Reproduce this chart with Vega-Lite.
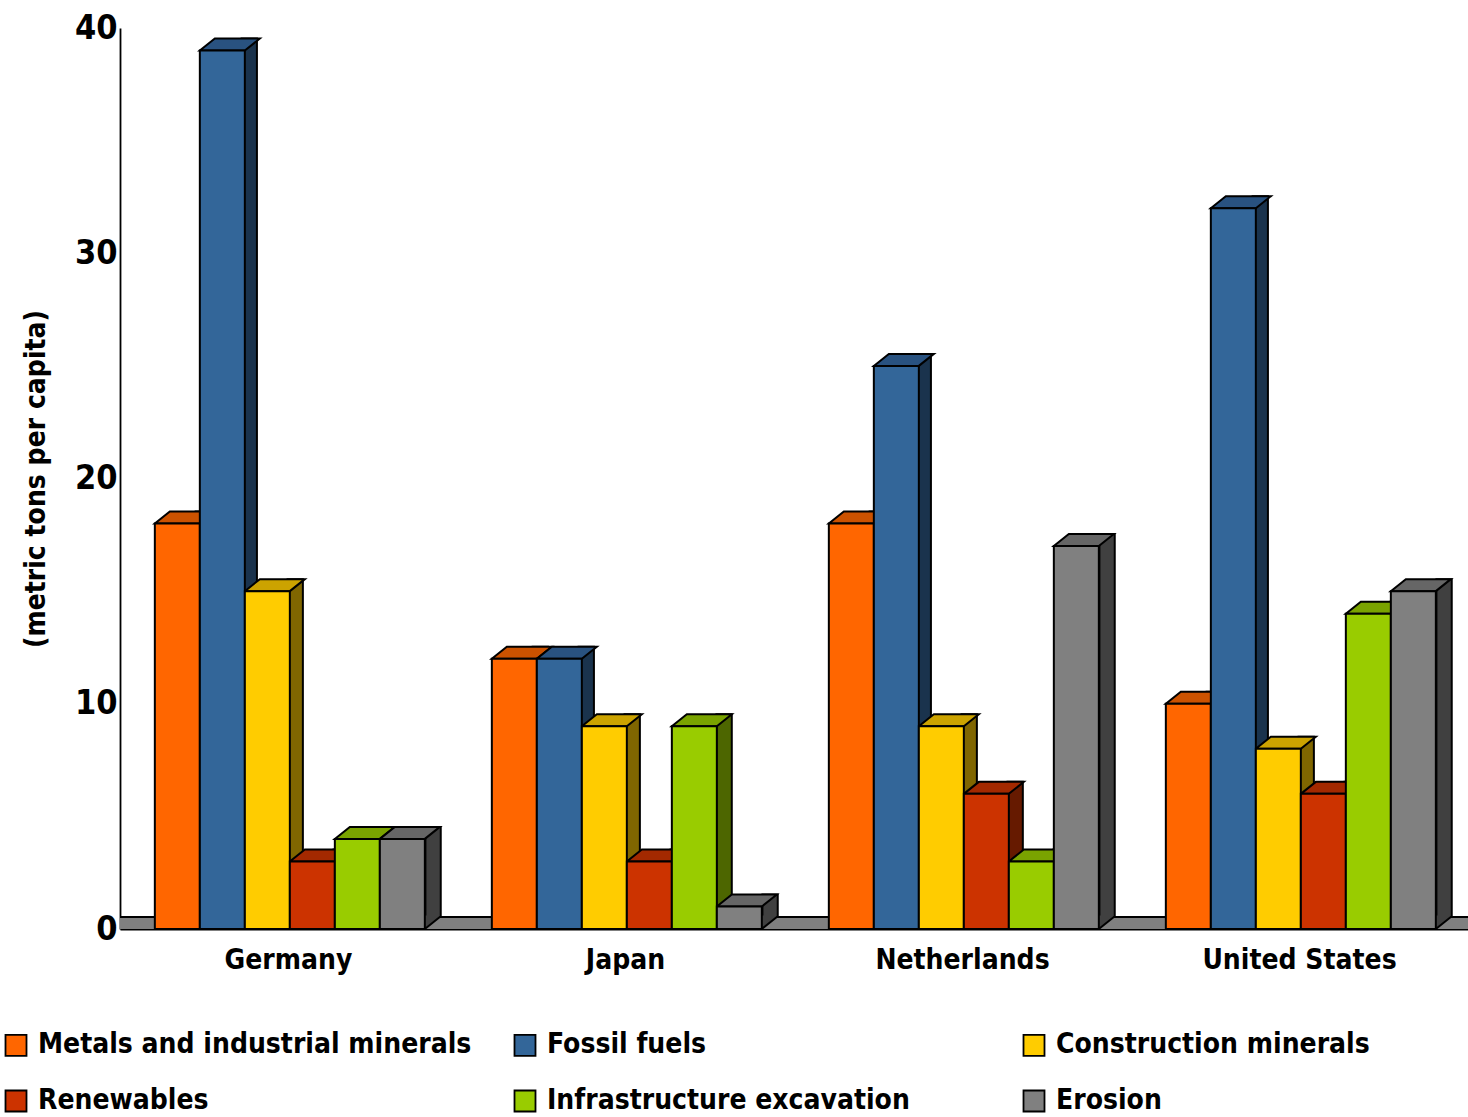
{
  "$schema": "https://vega.github.io/schema/vega-lite/v6.json",
  "autosize": {"type": "none"},
  "padding": {"left": 120, "top": 28, "right": 0, "bottom": 188},
  "width": 1348,
  "height": 901,
  "background": "white",
  "config": {
    "view": {"stroke": null},
    "font": "Liberation Sans Narrow, DejaVu Sans Condensed, sans-serif"
  },
  "data": {
    "values": [
      {"country": "Germany", "category": "Metals and industrial minerals", "value": 18},
      {"country": "Germany", "category": "Fossil fuels", "value": 39},
      {"country": "Germany", "category": "Construction minerals", "value": 15},
      {"country": "Germany", "category": "Renewables", "value": 3},
      {"country": "Germany", "category": "Infrastructure excavation", "value": 4},
      {"country": "Germany", "category": "Erosion", "value": 4},
      {"country": "Japan", "category": "Metals and industrial minerals", "value": 12},
      {"country": "Japan", "category": "Fossil fuels", "value": 12},
      {"country": "Japan", "category": "Construction minerals", "value": 9},
      {"country": "Japan", "category": "Renewables", "value": 3},
      {"country": "Japan", "category": "Infrastructure excavation", "value": 9},
      {"country": "Japan", "category": "Erosion", "value": 1},
      {"country": "Netherlands", "category": "Metals and industrial minerals", "value": 18},
      {"country": "Netherlands", "category": "Fossil fuels", "value": 25},
      {"country": "Netherlands", "category": "Construction minerals", "value": 9},
      {"country": "Netherlands", "category": "Renewables", "value": 6},
      {"country": "Netherlands", "category": "Infrastructure excavation", "value": 3},
      {"country": "Netherlands", "category": "Erosion", "value": 17},
      {"country": "United States", "category": "Metals and industrial minerals", "value": 10},
      {"country": "United States", "category": "Fossil fuels", "value": 32},
      {"country": "United States", "category": "Construction minerals", "value": 8},
      {"country": "United States", "category": "Renewables", "value": 6},
      {"country": "United States", "category": "Infrastructure excavation", "value": 14},
      {"country": "United States", "category": "Erosion", "value": 15}
    ]
  },
  "resolve": {"scale": {"xOffset": "independent", "fill": "independent"}},
  "layer": [
    {
      "mark": {"type": "rect", "fill": "#808080", "yOffset": -12, "opacity": 1},
      "encoding": {
        "x": {"value": 0},
        "x2": {"value": "width"},
        "y": {"datum": 0, "type": "quantitative"},
        "y2": {"datum": 0}
      }
    },
    {
      "mark": {"type": "rule", "color": "black", "strokeWidth": 1.8, "yOffset": -12, "opacity": 1},
      "encoding": {
        "y": {"datum": 0, "type": "quantitative"}
      }
    },
    {
      "mark": {"type": "bar", "stroke": "black", "strokeWidth": 2, "yOffset": -12, "y2Offset": -12, "opacity": 1},
      "encoding": {
        "x": {"field": "country", "type": "nominal"},
        "xOffset": {"field": "category", "type": "nominal", "sort": null,
          "scale": {"type": "band", "paddingInner": 0.66667, "paddingOuter": 1.0778, "align": 0.8231}},
        "y": {"field": "value", "type": "quantitative"},
        "y2": {"datum": 0},
        "fill": {"field": "category", "type": "nominal", "sort": null, "legend": null,
          "scale": {"domain": ["Metals and industrial minerals", "Fossil fuels", "Construction minerals", "Renewables", "Infrastructure excavation", "Erosion"],
            "range": ["#803300", "#1A334D", "#806600", "#661A00", "#4D6600", "#404040"]}}
      }
    },
    {
      "mark": {"type": "point", "filled": true, "opacity": 1, "strokeWidth": 0, "size": 400,
        "shape": "M2.2,0L2.2,-1.36L3.68,-1.36L3.68,-1.144L2.25,0Z"},
      "encoding": {
        "x": {"field": "country", "type": "nominal"},
        "xOffset": {"field": "category", "type": "nominal", "sort": null,
          "scale": {"type": "band", "paddingInner": 0, "paddingOuter": 0.7444, "align": 0.52}},
        "y": {"datum": 0, "type": "quantitative"},
        "fill": {"field": "category", "type": "nominal", "sort": null, "legend": null,
          "scale": {"domain": ["Metals and industrial minerals", "Fossil fuels", "Construction minerals", "Renewables", "Infrastructure excavation", "Erosion"],
            "range": ["#803300", "#1A334D", "#806600", "#661A00", "#4D6600", "#404040"]}}
      }
    },
    {
      "mark": {"type": "point", "filled": false, "opacity": 1, "stroke": "black", "strokeWidth": 2, "size": 400,
        "shape": "M2.25,0L3.75,-1.2"},
      "encoding": {
        "x": {"field": "country", "type": "nominal"},
        "xOffset": {"field": "category", "type": "nominal", "sort": null,
          "scale": {"type": "band", "paddingInner": 0, "paddingOuter": 0.7444, "align": 0.52}},
        "y": {"datum": 0, "type": "quantitative"}
      }
    },
    {
      "mark": {"type": "point", "filled": true, "opacity": 1, "stroke": "black", "strokeWidth": 2, "size": 400,
        "shape": "M-2.25,0L2.25,0L3.75,-1.2L-0.75,-1.2Z"},
      "encoding": {
        "x": {"field": "country", "type": "nominal"},
        "xOffset": {"field": "category", "type": "nominal", "sort": null,
          "scale": {"type": "band", "paddingInner": 0, "paddingOuter": 0.7444, "align": 0.52}},
        "y": {"field": "value", "type": "quantitative"},
        "fill": {"field": "category", "type": "nominal", "sort": null, "legend": null,
          "scale": {"domain": ["Metals and industrial minerals", "Fossil fuels", "Construction minerals", "Renewables", "Infrastructure excavation", "Erosion"],
            "range": ["#CC5200", "#295280", "#CCA300", "#A32900", "#7AA300", "#666666"]}}
      }
    },
    {
      "mark": {"type": "bar", "stroke": "black", "strokeWidth": 2, "opacity": 1},
      "encoding": {
        "x": {"field": "country", "type": "nominal",
          "scale": {"paddingInner": 0, "paddingOuter": 0},
          "axis": {"title": null, "ticks": false, "domain": true, "domainColor": "black", "domainWidth": 2,
            "labelFontSize": 28, "labelFontWeight": "bold", "labelColor": "black", "labelPadding": 31, "labelAngle": 0,
            "labelAlign": "center", "labelLimit": 400,
            "labelFont": "Liberation Sans Narrow, DejaVu Sans Condensed, sans-serif"}},
        "xOffset": {"field": "category", "type": "nominal", "sort": null,
          "scale": {"type": "band", "paddingInner": 0, "paddingOuter": 0.7444, "align": 0.52}},
        "y": {"field": "value", "type": "quantitative",
          "scale": {"domain": [0, 40], "nice": false},
          "axis": {"title": "(metric tons per capita)", "values": [0, 10, 20, 30, 40], "grid": false, "ticks": false,
            "domain": true, "domainColor": "black", "domainWidth": 1.8,
            "labelFontSize": 34, "labelFontWeight": "bold", "labelColor": "black", "labelPadding": 3,
            "labelFont": "Liberation Sans Narrow, DejaVu Sans Condensed, sans-serif",
            "titleFontSize": 28, "titleFontWeight": "bold", "titleColor": "black", "titlePadding": 24,
            "titleFont": "Liberation Sans Narrow, DejaVu Sans Condensed, sans-serif"}},
        "fill": {"field": "category", "type": "nominal", "sort": null,
          "scale": {"domain": ["Metals and industrial minerals", "Renewables", "Fossil fuels", "Infrastructure excavation", "Construction minerals", "Erosion"],
            "range": ["#FF6600", "#CC3300", "#336699", "#99CC00", "#FFCC00", "#808080"]},
          "legend": {"title": null, "orient": "none", "legendX": -118, "legendY": 1003, "columns": 3, "gridAlign": "all",
            "columnPadding": 38, "rowPadding": 26, "symbolType": "square", "symbolSize": 441,
            "symbolStrokeColor": "black", "symbolStrokeWidth": 1.8, "symbolOpacity": 1,
            "labelFontSize": 28, "labelFontWeight": "bold", "labelColor": "black", "labelOffset": 8, "labelLimit": 800,
            "labelFont": "Liberation Sans Narrow, DejaVu Sans Condensed, sans-serif"}}
      }
    }
  ]
}
